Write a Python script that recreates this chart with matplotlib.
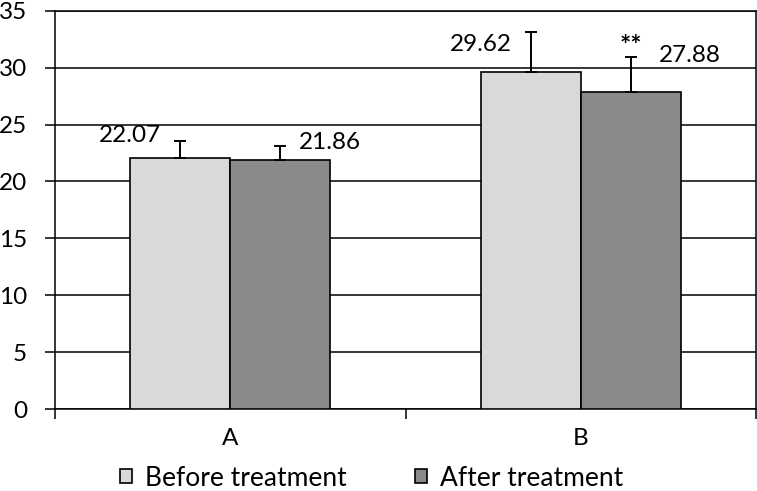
import matplotlib.pyplot as plt
import numpy as np

plt.rcParams['font.family'] = ['Lato', 'DejaVu Sans']

# data
groups = ['A', 'B']
before = [22.07, 29.62]
after = [21.86, 27.88]
before_err = [1.5, 3.55]
after_err = [1.3, 3.1]
series_names = ['Before treatment', 'After treatment']

fig = plt.figure(figsize=(7.57, 4.91), dpi=100)
ax = fig.add_axes([0.0727, 0.167, 0.926, 0.811])

x = np.arange(len(groups))
w = 0.285
c_before = '#d9d9d9'
c_after = '#8a8a8a'

ax.bar(x - w / 2, before, w, color=c_before, edgecolor='black', lw=1.2, zorder=3,
       label=series_names[0])
ax.bar(x + w / 2, after, w, color=c_after, edgecolor='black', lw=1.2, zorder=3,
       label=series_names[1])

ax.errorbar(x - w / 2, before, yerr=[np.zeros(2), before_err], fmt='none',
            ecolor='black', elinewidth=1.4, capsize=4, capthick=1.4, zorder=4)
ax.errorbar(x + w / 2, after, yerr=[np.zeros(2), after_err], fmt='none',
            ecolor='black', elinewidth=1.4, capsize=4, capthick=1.4, zorder=4)

fs = 17.5
# value labels
lab_off_b = [2.0, 2.4]
lab_off_a = [1.6, 3.2]
lab_dx_a = [0.0, 0.025]
for i in range(len(groups)):
    ax.text(x[i] - w, before[i] + lab_off_b[i], f'{before[i]:.2f}', ha='center',
            va='center', fontsize=fs)
    ax.text(x[i] + w + lab_dx_a[i], after[i] + lab_off_a[i], f'{after[i]:.2f}',
            ha='center', va='center', fontsize=fs)
ax.text(x[1] + w / 2, after[1] + after_err[1] + 0.9, '**', ha='center', va='center',
        fontsize=19, fontweight='bold')

ax.set_xlim(-0.5, 1.5)
ax.set_ylim(0, 35)
ax.set_yticks(np.arange(0, 36, 5))
ax.yaxis.grid(True, color='black', lw=1.1, zorder=0)
ax.set_xticks(x)
ax.set_xticklabels(groups)
ax.set_xticks([-0.5, 0.5, 1.5], minor=True)
ax.tick_params(axis='x', which='major', length=0, pad=14, labelsize=fs)
ax.tick_params(axis='x', which='minor', length=7, width=1.1, direction='out')
ax.tick_params(axis='y', length=7, width=1.1, labelsize=fs, pad=13)
for s in ax.spines.values():
    s.set_linewidth(1.1)
    s.set_color('black')

leg = fig.legend(loc='center', bbox_to_anchor=(0.491, 0.026), ncol=2, frameon=False,
                 fontsize=19, handlelength=0.45, handleheight=0.45, handletextpad=0.5,
                 columnspacing=2.6, borderpad=0, borderaxespad=0)

fig.savefig('out.png', dpi=100)
